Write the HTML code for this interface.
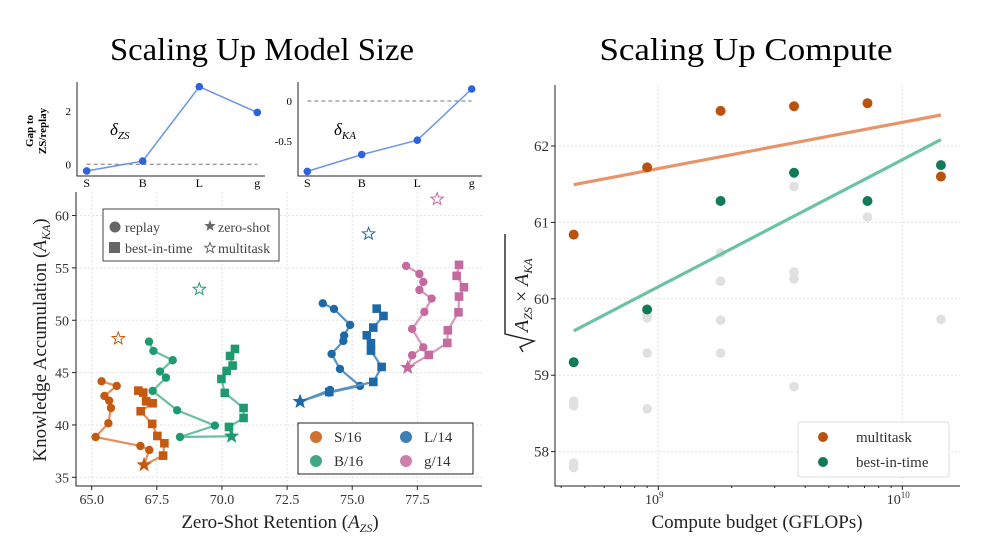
<!DOCTYPE html>
<html><head><meta charset="utf-8"><style>
html,body{margin:0;padding:0;background:#fff;}
svg{display:block;font-family:"Liberation Serif","DejaVu Serif",serif;}
</style></head><body>
<svg id="fig" width="1000" height="554" viewBox="0 0 1000 554" xmlns="http://www.w3.org/2000/svg">
<text x="262" y="60" font-size="32" text-anchor="middle" textLength="304" lengthAdjust="spacingAndGlyphs">Scaling Up Model Size</text>
<text x="746" y="60" font-size="32" text-anchor="middle" textLength="293" lengthAdjust="spacingAndGlyphs">Scaling Up Compute</text>
<g id="inset1"></g>
<g id="inset2"></g>
<g id="main"></g>
<g id="right"></g>
</svg>
<script>
// ---------- data ----------
const insetCats = ['S','B','L','g'];
const deltaZS = [-0.25, 0.12, 2.92, 1.95];
const deltaKA = [-0.88, -0.67, -0.49, 0.15];

const models = ['S/16','B/16','L/14','g/14'];
const zeroShotZS = [67.01, 70.37, 73.00, 77.13];
const zeroShotKA = [36.18, 38.92, 42.23, 45.48];
const multitaskZS = [66.02, 69.13, 75.63, 78.26];
const multitaskKA = [48.25, 52.96, 58.25, 61.56];
const replayS_ZS = [67.21, 66.87, 65.15, 65.64, 65.74, 65.67, 65.49, 65.96, 65.38];
const replayS_KA = [37.61, 37.99, 38.85, 40.16, 41.62, 42.32, 42.77, 43.73, 44.17];
const bestS_ZS = [67.74, 67.79, 67.52, 67.32, 66.88, 67.34, 67.09, 66.98, 66.79];
const bestS_KA = [37.07, 38.25, 38.95, 40.10, 41.31, 42.07, 42.26, 43.09, 43.28];
const replayB_ZS = [68.39, 69.73, 68.28, 67.34, 67.85, 67.62, 68.11, 67.37, 67.20];
const replayB_KA = [38.85, 39.94, 41.40, 43.25, 44.52, 45.10, 46.18, 47.07, 47.96];
const bestB_ZS = [70.27, 70.83, 70.83, 70.11, 69.98, 70.18, 70.41, 70.31, 70.50];
const bestB_KA = [39.81, 40.67, 41.62, 43.06, 44.39, 45.16, 45.67, 46.59, 47.26];
const replayL_ZS = [74.15, 74.12, 75.30, 74.53, 74.21, 74.66, 74.69, 74.92, 74.30, 73.87];
const replayL_KA = [43.34, 43.09, 43.73, 45.35, 46.78, 48.03, 48.54, 49.55, 51.08, 51.62];
const bestL_ZS = [74.12, 75.81, 76.13, 75.72, 75.72, 75.56, 75.81, 76.20, 75.94];
const bestL_KA = [43.15, 44.11, 45.54, 47.10, 47.80, 48.57, 49.30, 50.41, 51.11];
const replayG_ZS = [77.30, 77.73, 77.30, 77.77, 78.05, 77.58, 77.73, 77.58, 77.07];
const replayG_KA = [46.66, 47.42, 49.17, 50.80, 52.07, 52.90, 53.66, 54.43, 55.19];
const bestG_ZS = [77.94, 78.65, 78.67, 79.08, 79.10, 79.29, 79.01, 79.10];
const bestG_KA = [46.69, 47.83, 49.04, 50.76, 52.26, 53.15, 54.24, 55.29];
const xTicksMain = [65.0, 67.5, 70.0, 72.5, 75.0, 77.5];
const yTicksMain = [35, 40, 45, 50, 55, 60];

const computeBudget = [4.5e8, 9e8, 1.8e9, 3.6e9, 7.2e9, 1.44e10];
const multitaskScore = [60.84, 61.72, 62.46, 62.52, 62.56, 61.60];
const bestInTimeScore = [59.17, 59.86, 61.28, 61.65, 61.28, 61.75];
const grayCompute = [4.5e8,4.5e8,4.5e8,4.5e8, 9e8,9e8,9e8,9e8, 1.8e9,1.8e9,1.8e9,1.8e9, 3.6e9,3.6e9,3.6e9,3.6e9, 7.2e9, 1.44e10];
const grayScore = [58.66,58.60,57.85,57.79, 59.79,59.75,59.29,58.56, 60.60,60.23,59.72,59.29, 61.47,60.35,60.26,58.85, 61.07, 59.73];
const yTicksRight = [58, 59, 60, 61, 62];

// ---------- helpers ----------
const NS='http://www.w3.org/2000/svg';
function mk(parent, tag, attrs, text){
  const e=document.createElementNS(NS,tag);
  for(const k in attrs) e.setAttribute(k,attrs[k]);
  if(text!==undefined) e.textContent=text;
  parent.appendChild(e); return e;
}
function star(cx,cy,r){
  let p=[];
  for(let i=0;i<10;i++){const a=-Math.PI/2+i*Math.PI/5;const rr=i%2?r*0.42:r;p.push((cx+rr*Math.cos(a)).toFixed(1)+','+(cy+rr*Math.sin(a)).toFixed(1));}
  return p.join(' ');
}
const COL={S:'#c4590f',B:'#1f9a6e',L:'#1d68a8',G:'#c46a9f'};
const LCOL={S:'#e29060',B:'#6cc0a0',L:'#5a92c4',G:'#d898bd'};

// ---------- insets ----------
function inset(g, vals, x0, x1, yTop, yBot, catX, yScale, ticks, label, lx){
  const ax=mk(g,'path',{d:`M${x0},${yTop} V${yBot} H${x1}`,stroke:'#222',fill:'none','stroke-width':1});
  
  
  mk(g,'line',{x1:catX[0],x2:catX[3],y1:yScale(0),y2:yScale(0),stroke:'#777','stroke-dasharray':'4,3','stroke-width':1});
  ticks.forEach(t=>{
    const tl=mk(g,'text',{x:x0-6,y:yScale(t)+4,'font-size':11,'text-anchor':'end'},String(t));
    
    
  });
  insetCats.forEach((c,i)=>{
    const tl=mk(g,'text',{x:catX[i],y:yBot+11,'font-size':12,'text-anchor':'middle'},c);
    
    
  });
  const pts=vals.map((v,i)=>catX[i]+','+yScale(v)).join(' ');
  mk(g,'polyline',{points:pts,fill:'none',stroke:'#6a94e6','stroke-width':1.5});
  vals.forEach((v,i)=>{
    const c=mk(g,'circle',{cx:catX[i],cy:yScale(v),r:3.8,fill:'#2f62dc'});
    
    
  });
  const t=mk(g,'text',{x:lx,y:135,'font-size':17,'font-style':'italic'},'δ');
  mk(t,'tspan',{'font-size':11,dy:4},label);
  
  
}
const i1=document.getElementById('inset1');
inset(i1, deltaZS, 77, 265, 82, 176, [86.7,142.7,199.3,257.3], v=>164.3-v*26.6, [0,2], 'ZS', 110);
const yl=mk(i1,'text',{transform:'translate(33,131) rotate(-90)','font-size':11,'font-weight':'bold','text-anchor':'middle'},'Gap to');


const yl2=mk(i1,'text',{transform:'translate(46,131) rotate(-90)','font-size':11,'font-weight':'bold','text-anchor':'middle'},'ZS/replay');


inset(document.getElementById('inset2'), deltaKA, 298, 482, 82, 176, [307.3,361.7,417.3,471.7], v=>101-v*80, [0,-0.5], 'KA', 334);

// ---------- main scatter ----------
const gm=document.getElementById('main');
const mx=v=>91.7+(v-65)*26.05, my=v=>477.3-(v-35)*10.47;
const ML=76, MR=482, MT=192, MB=486;
xTicksMain.forEach(t=>{
  mk(gm,'line',{x1:mx(t),x2:mx(t),y1:MT,y2:MB,stroke:'#e2e2e2','stroke-dasharray':'2,2'});
  mk(gm,'line',{x1:mx(t),x2:mx(t),y1:MB,y2:MB+4,stroke:'#222'});
  const tl=mk(gm,'text',{x:mx(t),y:MB+18,'font-size':14,'text-anchor':'middle',fill:'#333'},t.toFixed(1));
  
  
});
yTicksMain.forEach(t=>{
  mk(gm,'line',{x1:ML,x2:MR,y1:my(t),y2:my(t),stroke:'#e2e2e2','stroke-dasharray':'2,2'});
  mk(gm,'line',{x1:ML-4,x2:ML,y1:my(t),y2:my(t),stroke:'#222'});
  const tl=mk(gm,'text',{x:ML-7,y:my(t)+5,'font-size':14,'text-anchor':'end',fill:'#333'},String(t));
  
  
});
mk(gm,'path',{d:`M${ML},${MT} V${MB} H${MR}`,stroke:'#222',fill:'none','stroke-width':1});
function series(key, rz, rk, bz, bk, i){
  [[rz,rk,'replay'],[bz,bk,'best']].forEach(([xs,ys,kind])=>{
    const pts=[[zeroShotZS[i],zeroShotKA[i]]].concat(xs.map((x,j)=>[x,ys[j]]));
    mk(gm,'polyline',{points:pts.map(p=>mx(p[0])+','+my(p[1])).join(' '),fill:'none',stroke:LCOL[key],'stroke-width':2.2,'stroke-linejoin':'round'});
    xs.forEach((x,j)=>{
      let e;
      if(kind==='replay') e=mk(gm,'circle',{cx:mx(x),cy:my(ys[j]),r:4.2,fill:COL[key]});
      else e=mk(gm,'rect',{x:mx(x)-4.3,y:my(ys[j])-4.3,width:8.6,height:8.6,fill:COL[key]});
      
      
    });
  });
  const z=mk(gm,'polygon',{points:star(mx(zeroShotZS[i]),my(zeroShotKA[i]),8),fill:COL[key]});
  
  
  const m=mk(gm,'polygon',{points:star(mx(multitaskZS[i]),my(multitaskKA[i]),6.5),fill:'none',stroke:COL[key],'stroke-width':1});
  
  
}
series('S',replayS_ZS,replayS_KA,bestS_ZS,bestS_KA,0);
series('B',replayB_ZS,replayB_KA,bestB_ZS,bestB_KA,1);
series('L',replayL_ZS,replayL_KA,bestL_ZS,bestL_KA,2);
series('G',replayG_ZS,replayG_KA,bestG_ZS,bestG_KA,3);
// marker legend
const lg1=mk(gm,'g',{});


mk(lg1,'rect',{x:103,y:209,width:176,height:52,fill:'#fff',stroke:'#444','stroke-width':1});
mk(lg1,'circle',{cx:115,cy:227,r:5.5,fill:'#666'});
mk(lg1,'text',{x:125,y:232,'font-size':14,fill:'#444'},'replay');
mk(lg1,'rect',{x:109,y:242,width:11,height:11,fill:'#666'});
mk(lg1,'text',{x:125,y:253,'font-size':14,fill:'#444'},'best-in-time');
mk(lg1,'polygon',{points:star(210,226,6),fill:'#666'});
mk(lg1,'text',{x:218,y:232,'font-size':14,fill:'#444'},'zero-shot');
mk(lg1,'polygon',{points:star(210,248,5.5),fill:'none',stroke:'#666'});
mk(lg1,'text',{x:218,y:253,'font-size':14,fill:'#444'},'multitask');
// model legend
const lg2=mk(gm,'g',{});


mk(lg2,'rect',{x:298,y:423,width:175,height:51,fill:'#fff',stroke:'#222','stroke-width':1});
[['S',316,437,'S/16'],['L',406,437,'L/14'],['B',316,461,'B/16'],['G',406,461,'g/14']].forEach(([k,x,y,t])=>{
  mk(lg2,'circle',{cx:x,cy:y,r:6,fill:COL[k],opacity:0.85});
  mk(lg2,'text',{x:x+18,y:y+5,'font-size':15,fill:'#333'},t);
});
const xt=mk(gm,'text',{x:280,y:528,'font-size':19,'text-anchor':'middle',fill:'#222'},'Zero-Shot Retention (');
mk(xt,'tspan',{'font-style':'italic'},'A');mk(xt,'tspan',{'font-size':12,dy:4,'font-style':'italic'},'ZS');mk(xt,'tspan',{dy:-4},')');


const yt=mk(gm,'text',{transform:'translate(46,340) rotate(-90)','font-size':19,'text-anchor':'middle',fill:'#222'},'Knowledge Accumulation (');
mk(yt,'tspan',{'font-style':'italic'},'A');mk(yt,'tspan',{'font-size':12,dy:4,'font-style':'italic'},'KA');mk(yt,'tspan',{dy:-4},')');



// ---------- right: compute ----------
const gr=document.getElementById('right');
const rx=c=>658.3+(Math.log10(c)-9)*244, ry=v=>146-(v-62)*76.4;
const RL=555, RR=960, RT=85, RB=486;
[1e9,1e10].forEach(t=>mk(gr,'line',{x1:rx(t),x2:rx(t),y1:RT,y2:RB,stroke:'#e2e2e2','stroke-dasharray':'2,2'}));
yTicksRight.forEach(t=>{
  mk(gr,'line',{x1:RL,x2:RR,y1:ry(t),y2:ry(t),stroke:'#e2e2e2','stroke-dasharray':'2,2'});
  mk(gr,'line',{x1:RL-4,x2:RL,y1:ry(t),y2:ry(t),stroke:'#222'});
  const tl=mk(gr,'text',{x:RL-6,y:ry(t)+5,'font-size':15,'text-anchor':'end',fill:'#333'},String(t));
  
  
});
for(let d=8;d<=10;d++)for(let m=1;m<10;m++){const c=m*Math.pow(10,d);const x=rx(c);if(x<RL||x>RR)continue;mk(gr,'line',{x1:x,x2:x,y1:RB,y2:RB+(m===1?4:2),stroke:'#222'});}
[['9',1e9],['10',1e10]].forEach(([e,c])=>{
  const t=mk(gr,'text',{x:rx(c)-4,y:RB+18,'font-size':14,'text-anchor':'middle',fill:'#333'},'10');
  mk(t,'tspan',{'font-size':9,dy:-6},e);
  
  
});
mk(gr,'path',{d:`M${RL},${RT} V${RB} H${RR}`,stroke:'#222',fill:'none','stroke-width':1});
grayCompute.forEach((c,i)=>{
  const e=mk(gr,'circle',{cx:rx(c),cy:ry(grayScore[i]),r:4.8,fill:'#e0e0e0'});
  
  
});
function fit(ys){
  const xs=computeBudget.map(c=>Math.log10(c));const n=xs.length;
  const mxv=xs.reduce((a,b)=>a+b)/n, myv=ys.reduce((a,b)=>a+b)/n;
  let sxy=0,sxx=0;xs.forEach((x,i)=>{sxy+=(x-mxv)*(ys[i]-myv);sxx+=(x-mxv)**2;});
  const s=sxy/sxx;return x=>myv+s*(Math.log10(x)-mxv);
}
[[multitaskScore,'#e8946a','#b9520c','multitask'],[bestInTimeScore,'#6cc3a3','#117a58','best-in-time']].forEach(([ys,lc,pc,nm])=>{
  const f=fit(ys);const c0=computeBudget[0],c1=computeBudget[computeBudget.length-1];
  const ln=mk(gr,'line',{x1:rx(c0),y1:ry(f(c0)),x2:rx(c1),y2:ry(f(c1)),stroke:lc,'stroke-width':3.2});
  
  
  ys.forEach((v,i)=>{
    const e=mk(gr,'circle',{cx:rx(computeBudget[i]),cy:ry(v),r:5,fill:pc});
    
    
  });
});
const lg3=mk(gr,'g',{});


mk(lg3,'rect',{x:798,y:422,width:151,height:55,rx:3,fill:'#fff',stroke:'#ddd'});
mk(lg3,'circle',{cx:823,cy:437,r:5,fill:'#b9520c'});
mk(lg3,'text',{x:856,y:442,'font-size':15,fill:'#333'},'multitask');
mk(lg3,'circle',{cx:823,cy:462,r:5,fill:'#117a58'});
mk(lg3,'text',{x:856,y:467,'font-size':15,fill:'#333'},'best-in-time');
const rxt=mk(gr,'text',{x:757,y:528,'font-size':19,'text-anchor':'middle',fill:'#222'},'Compute budget (GFLOPs)');


const ryt=mk(gr,'g',{transform:'translate(528,290) rotate(-90)'});


mk(ryt,'path',{d:'M-62,-5 L-57,-8 L-51,6 L-44,-23 H56',fill:'none',stroke:'#222','stroke-width':1.4});
const rt=mk(ryt,'text',{x:-42,y:0,'font-size':20,fill:'#222','font-style':'italic'},'A');
mk(rt,'tspan',{'font-size':12,dy:4},'ZS');mk(rt,'tspan',{dy:-4,'font-style':'normal'},' × ');
mk(rt,'tspan',{},'A');mk(rt,'tspan',{'font-size':12,dy:4},'KA');
</script>
</body></html>
